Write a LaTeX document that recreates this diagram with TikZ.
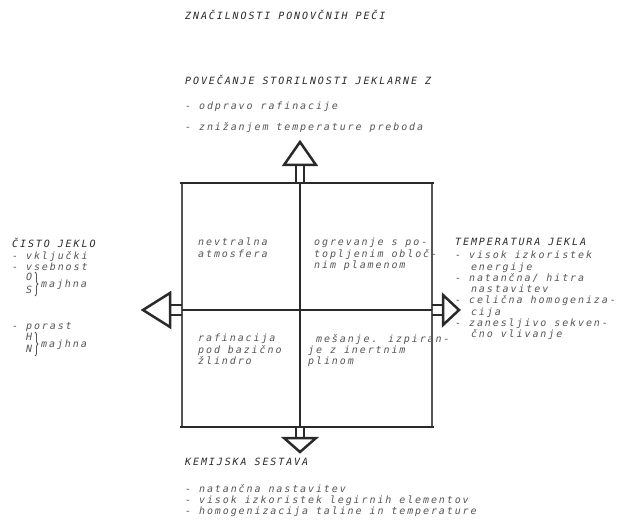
\documentclass[tikz,border=0pt]{standalone}
\usepackage{fontspec}
\usetikzlibrary{decorations.pathreplacing}
\newfontfamily\twfont[LetterSpace=19]{DejaVu Sans Mono}
\definecolor{ink}{HTML}{2A2A2A}
\definecolor{txtgray}{HTML}{555555}
\definecolor{sidegray}{HTML}{555555}
\begin{document}
\begin{tikzpicture}[x=1bp,y=-1bp,
  txt/.style={font=\twfont\itshape\fontsize{10bp}{11.3bp}\selectfont, text=txtgray, align=left, inner sep=0pt, anchor=north west},
  stack/.style={txt, font=\twfont\itshape\fontsize{10bp}{12.5bp}\selectfont},
  head/.style={txt, text=ink},
  thickline/.style={draw=ink, line width=2.6bp},
  thinline/.style={draw=sidegray, line width=1.4bp},
  arrowhead/.style={draw=ink, line width=2.5bp, line join=miter, fill=white},
  shaft/.style={draw=ink, line width=2.1bp},
  bracedraw/.style={decorate, decoration={brace, amplitude=3bp}, draw=txtgray, line width=0.9bp}]
\useasboundingbox (0,0) rectangle (617,523);
% frame
\draw[thinline] (182,183) -- (182,427);
\draw[thinline] (432,183) -- (432,427);
\draw[thickline] (180,183) -- (434,183);
\draw[thickline] (180,427) -- (434,427);
\draw[thickline] (300,183) -- (300,427);
\draw[thickline] (182,310) -- (432,310);
% top arrow
\draw[shaft] (296,165) -- (296,183) (304,165) -- (304,183);
\draw[arrowhead] (300,142) -- (284,165) -- (316,165) -- cycle;
% bottom arrow
\draw[shaft] (296,427) -- (296,438) (304,427) -- (304,438);
\draw[arrowhead] (300,452) -- (284,438) -- (316,438) -- cycle;
% left arrow
\draw[shaft] (170,305) -- (182,305) (170,315) -- (182,315);
\draw[arrowhead] (143,310) -- (170,293) -- (170,327) -- cycle;
% right arrow
\draw[shaft] (432,305) -- (443,305) (432,315) -- (443,315);
\draw[arrowhead] (459,310) -- (443,295) -- (443,325) -- cycle;
% texts
\node[head] (title) at (185,10) {ZNAČILNOSTI PONOVČNIH PEČI};
\node[head] (top) at (185,75) {POVEČANJE STORILNOSTI JEKLARNE Z};
\node[txt] (top1) at (185,102) {- odpravo rafinacije};
\node[txt] (top2) at (185,122) {- znižanjem temperature preboda};
\node[head] (left) at (12,238) {ČISTO JEKLO};
\node[txt] (left1) at (12,251) {- vključki\\- vsebnost};
\node[stack] (left2) at (26,273) {O\\S};
\draw[bracedraw] (35,272) -- (35,296);
\node[txt] (left3) at (41,280) {majhna};
\node[txt] (left4) at (12,322) {- porast};
\node[stack] (left5) at (26,333) {H\\N};
\draw[bracedraw] (35,332) -- (35,356);
\node[txt] (left6) at (41,340) {majhna};
\node[head] (right) at (455,238) {TEMPERATURA JEKLA};
\node[txt] (right1) at (455,251) {- visok izkoristek\\\ \ energije\\- natančna/ hitra\\\ \ nastavitev\\- celična homogeniza-\\\ \ cija\\- zanesljivo sekven-\\\ \ čno vlivanje};
\node[txt] (q1) at (198,238) {nevtralna\\atmosfera};
\node[txt] (q2) at (314,238) {ogrevanje s po-\\topljenim obloč-\\nim plamenom};
\node[txt] (q3) at (198,334) {rafinacija\\pod bazično\\žlindro};
\node[txt] (q4) at (308,334) {\ mešanje. izpiran-\\je z inertnim\\plinom};
\node[head] (bottom) at (185,458) {KEMIJSKA SESTAVA};
\node[txt] (b1) at (185,484) {- natančna nastavitev\\- visok izkoristek legirnih elementov\\- homogenizacija taline in temperature};
\end{tikzpicture}
\end{document}
